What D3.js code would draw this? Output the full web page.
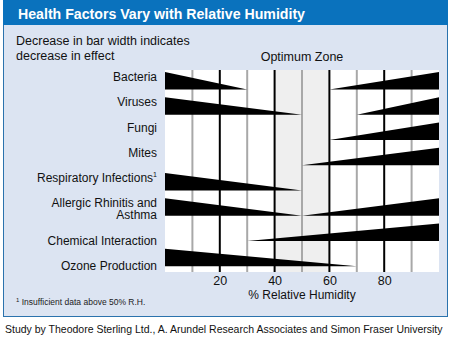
<!DOCTYPE html>
<html>
<head>
<meta charset="utf-8">
<script src="https://cdn.jsdelivr.net/npm/d3@7"></script>
<style>
  body { margin: 0; background: #fff; }
  svg text { font-family: "Liberation Sans", Arial, sans-serif; }
</style>
</head>
<body>
<svg id="chart" width="451" height="341"></svg>
<script>
// health factors, top to bottom
let factors = ["Bacteria", "Viruses", "Fungi", "Mites", "Respiratory Infections",
               "Allergic Rhinitis and Asthma", "Chemical Interaction", "Ozone Production"];
// label lines as printed
let labelLines = [["Bacteria"], ["Viruses"], ["Fungi"], ["Mites"], ["Respiratory Infections"],
                  ["Allergic Rhinitis and", "Asthma"], ["Chemical Interaction"], ["Ozone Production"]];
// left wedge: effect fades from 0% RH to this value (null = none)
let lowEnd = [30, 50, null, null, 50, 50, null, 70];
// right wedge: effect grows from this value to 100% RH (null = none)
let highStart = [60, 70, 60, 50, null, 50, 30, null];
let tickValues = [20, 40, 60, 80];
let gridValues = [10, 20, 30, 40, 50, 60, 70, 80, 90];
let optimumZone = [40, 60];

let svg = d3.select("#chart");

// panel
svg.append("rect").attr("x", 3.5).attr("y", 0.5).attr("width", 444).attr("height", 316)
   .attr("fill", "#dce4f2").attr("stroke", "#2a72ad");
svg.append("rect").attr("x", 3).attr("y", 0).attr("width", 445).attr("height", 25)
   .attr("fill", "#0a72bd");
svg.append("text").attr("x", 18).attr("y", 18.5)
   .attr("fill", "#fff").attr("font-weight", "bold").attr("font-size", 14)
   .attr("textLength", 287).attr("lengthAdjust", "spacingAndGlyphs")
   .text("Health Factors Vary with Relative Humidity");

svg.append("text").attr("x", 16).attr("y", 45).attr("font-size", 12.5).attr("fill", "#111")
   .text("Decrease in bar width indicates");
svg.append("text").attr("x", 16).attr("y", 60).attr("font-size", 12.5).attr("fill", "#111")
   .text("decrease in effect");

let x = d3.scaleLinear().domain([0, 100]).range([165, 439]);
let y = d3.scaleBand().domain(factors).range([70, 272]);
let barPad = 2, barH = 17.5;

let plot = svg.append("g");
plot.append("rect").attr("x", x(0)).attr("y", 70).attr("width", x(100) - x(0)).attr("height", 202)
    .attr("fill", "#fff");
plot.append("rect").attr("x", x(optimumZone[0])).attr("y", 70)
    .attr("width", x(optimumZone[1]) - x(optimumZone[0])).attr("height", 202)
    .attr("fill", "#efefef");

plot.selectAll("line.grid")
    .data(gridValues)
    .enter()
    .append("line")
    .attr("class", "grid")
    .attr("x1", d => x(d)).attr("x2", d => x(d))
    .attr("y1", 70).attr("y2", 272)
    .attr("stroke", d => d % 20 === 0 ? "#000" : "#a8a8a8")
    .attr("stroke-width", 2);

svg.append("text").attr("x", x(50)).attr("y", 61).attr("text-anchor", "middle")
   .attr("font-size", 12.5).attr("fill", "#111").text("Optimum Zone");

// wedges
let wedges = [];
factors.forEach(function(f, i) {
    let top = y(f) + barPad, bot = top + barH;
    if (lowEnd[i] !== null) {
        wedges.push([[x(0), top], [x(lowEnd[i]), bot], [x(0), bot]]);
    }
    if (highStart[i] !== null) {
        wedges.push([[x(highStart[i]), bot], [x(100), top], [x(100), bot]]);
    }
});
plot.selectAll("path.wedge")
    .data(wedges)
    .enter()
    .append("path")
    .attr("class", "wedge")
    .attr("fill", "#000")
    .attr("d", d => "M" + d.join("L") + "Z");

// labels, extra lines push following ones down
let extra = 0;
labelLines.forEach(function(lines, i) {
    let base = y(factors[i]) + 11 + extra;
    lines.forEach(function(line, k) {
        let t = svg.append("text").attr("text-anchor", "end").attr("font-size", 12).attr("fill", "#111")
           .attr("x", 157).attr("y", base + k * 12);
        t.append("tspan").text(line);
        if (i === 4) {
            t.append("tspan").attr("font-size", 7).attr("dy", -5).text("1");
        }
    });
    extra += (lines.length - 1) * 12.5;
});

// axis
let axis = d3.axisBottom(x).tickValues(tickValues).tickSize(0).tickPadding(4.5);
let ag = svg.append("g").attr("transform", "translate(0,272)").call(axis);
ag.select(".domain").remove();
ag.selectAll("text").attr("font-size", 12.5).attr("fill", "#111")
  .attr("font-family", "Liberation Sans, Arial, sans-serif");

svg.append("text").attr("x", x(50)).attr("y", 299).attr("text-anchor", "middle")
   .attr("font-size", 12).attr("fill", "#111").text("% Relative Humidity");

let fn = svg.append("text").attr("x", 16).attr("y", 305).attr("font-size", 8.5).attr("fill", "#222");
fn.append("tspan").attr("font-size", 6).attr("dy", -3).text("1");
fn.append("tspan").attr("dy", 3).text(" Insufficient data above 50% R.H.");

// source line, sized so it spans the width of the panel
let src = svg.append("text").attr("x", 5).attr("y", 333).attr("font-size", 12).attr("fill", "#111")
   .text("Study by Theodore Sterling Ltd., A. Arundel Research Associates and Simon Fraser University");
let natural = src.node().getComputedTextLength();
src.attr("font-size", 12 * 438 / natural);
</script>
</body>
</html>
